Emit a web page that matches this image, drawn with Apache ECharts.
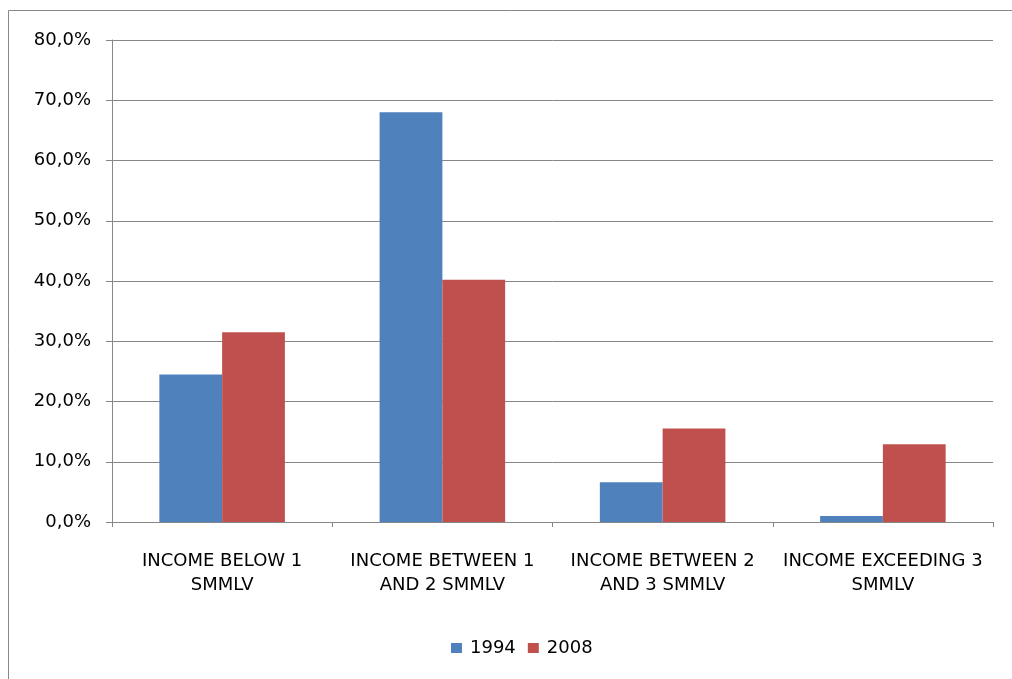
<!DOCTYPE html>
<html>
<head>
<meta charset="utf-8">
<script src="https://cdn.jsdelivr.net/npm/echarts@6/dist/echarts.min.js"></script>
<style>
  html, body { margin: 0; padding: 0; background: #fff; }
  #chart { width: 1012px; height: 679px; }
</style>
</head>
<body>
<div id="chart"></div>
<script>
// Income groups (share of households, in percent)
const categories = [
  'INCOME BELOW 1\nSMMLV',
  'INCOME BETWEEN 1\nAND 2 SMMLV',
  'INCOME BETWEEN 2\nAND 3 SMMLV',
  'INCOME EXCEEDING 3\nSMMLV'
];
const values1994 = [24.5, 68.0, 6.6, 1.0];
const values2008 = [31.5, 40.2, 15.5, 12.9];
const seriesNames = ['1994', '2008'];

const FONT = '"DejaVu Sans", sans-serif';
const GRAY = '#878787';

const chart = echarts.init(document.getElementById('chart'), null, { renderer: 'canvas' });

chart.setOption({
  animation: false,
  backgroundColor: '#ffffff',
  textStyle: { fontFamily: FONT, color: '#000' },
  graphic: [{
    type: 'rect',
    shape: { x: 8.5, y: 10.5, width: 1100, height: 800 },
    style: { fill: 'none', stroke: GRAY, lineWidth: 1 },
    silent: true
  }],
  grid: { left: 112, top: 40, right: 19, bottom: 157, containLabel: false },
  legend: {
    data: seriesNames,
    left: 451,
    top: 637,
    padding: 0,
    icon: 'rect',
    itemWidth: 11,
    itemHeight: 10,
    itemGap: 12,
    textStyle: { fontFamily: FONT, fontSize: 18, color: '#000', lineHeight: 22, padding: [0, 0, 0, 3] }
  },
  xAxis: {
    type: 'category',
    data: categories,
    axisLine: { lineStyle: { color: GRAY, width: 1 } },
    axisTick: { show: true, alignWithLabel: false, length: 5, lineStyle: { color: GRAY } },
    axisLabel: {
      interval: 0,
      margin: 27,
      fontFamily: FONT,
      fontSize: 18,
      lineHeight: 24,
      color: '#000',
      align: 'center'
    }
  },
  yAxis: {
    type: 'value',
    min: 0,
    max: 80,
    interval: 10,
    axisLine: { show: true, lineStyle: { color: GRAY, width: 1 } },
    axisTick: { show: true, length: 6, lineStyle: { color: GRAY } },
    splitLine: { show: true, lineStyle: { color: GRAY, width: 1 } },
    axisLabel: {
      margin: 21,
      fontFamily: FONT,
      fontSize: 18,
      color: '#000',
      formatter: v => v.toFixed(1).replace('.', ',') + '%'
    }
  },
  series: [
    {
      name: seriesNames[0],
      type: 'bar',
      data: values1994,
      barGap: '0%',
      barCategoryGap: '43%',
      itemStyle: { color: '#4F81BD' }
    },
    {
      name: seriesNames[1],
      type: 'bar',
      data: values2008,
      barGap: '0%',
      barCategoryGap: '43%',
      itemStyle: { color: '#C0504D' }
    }
  ]
});
</script>
</body>
</html>
